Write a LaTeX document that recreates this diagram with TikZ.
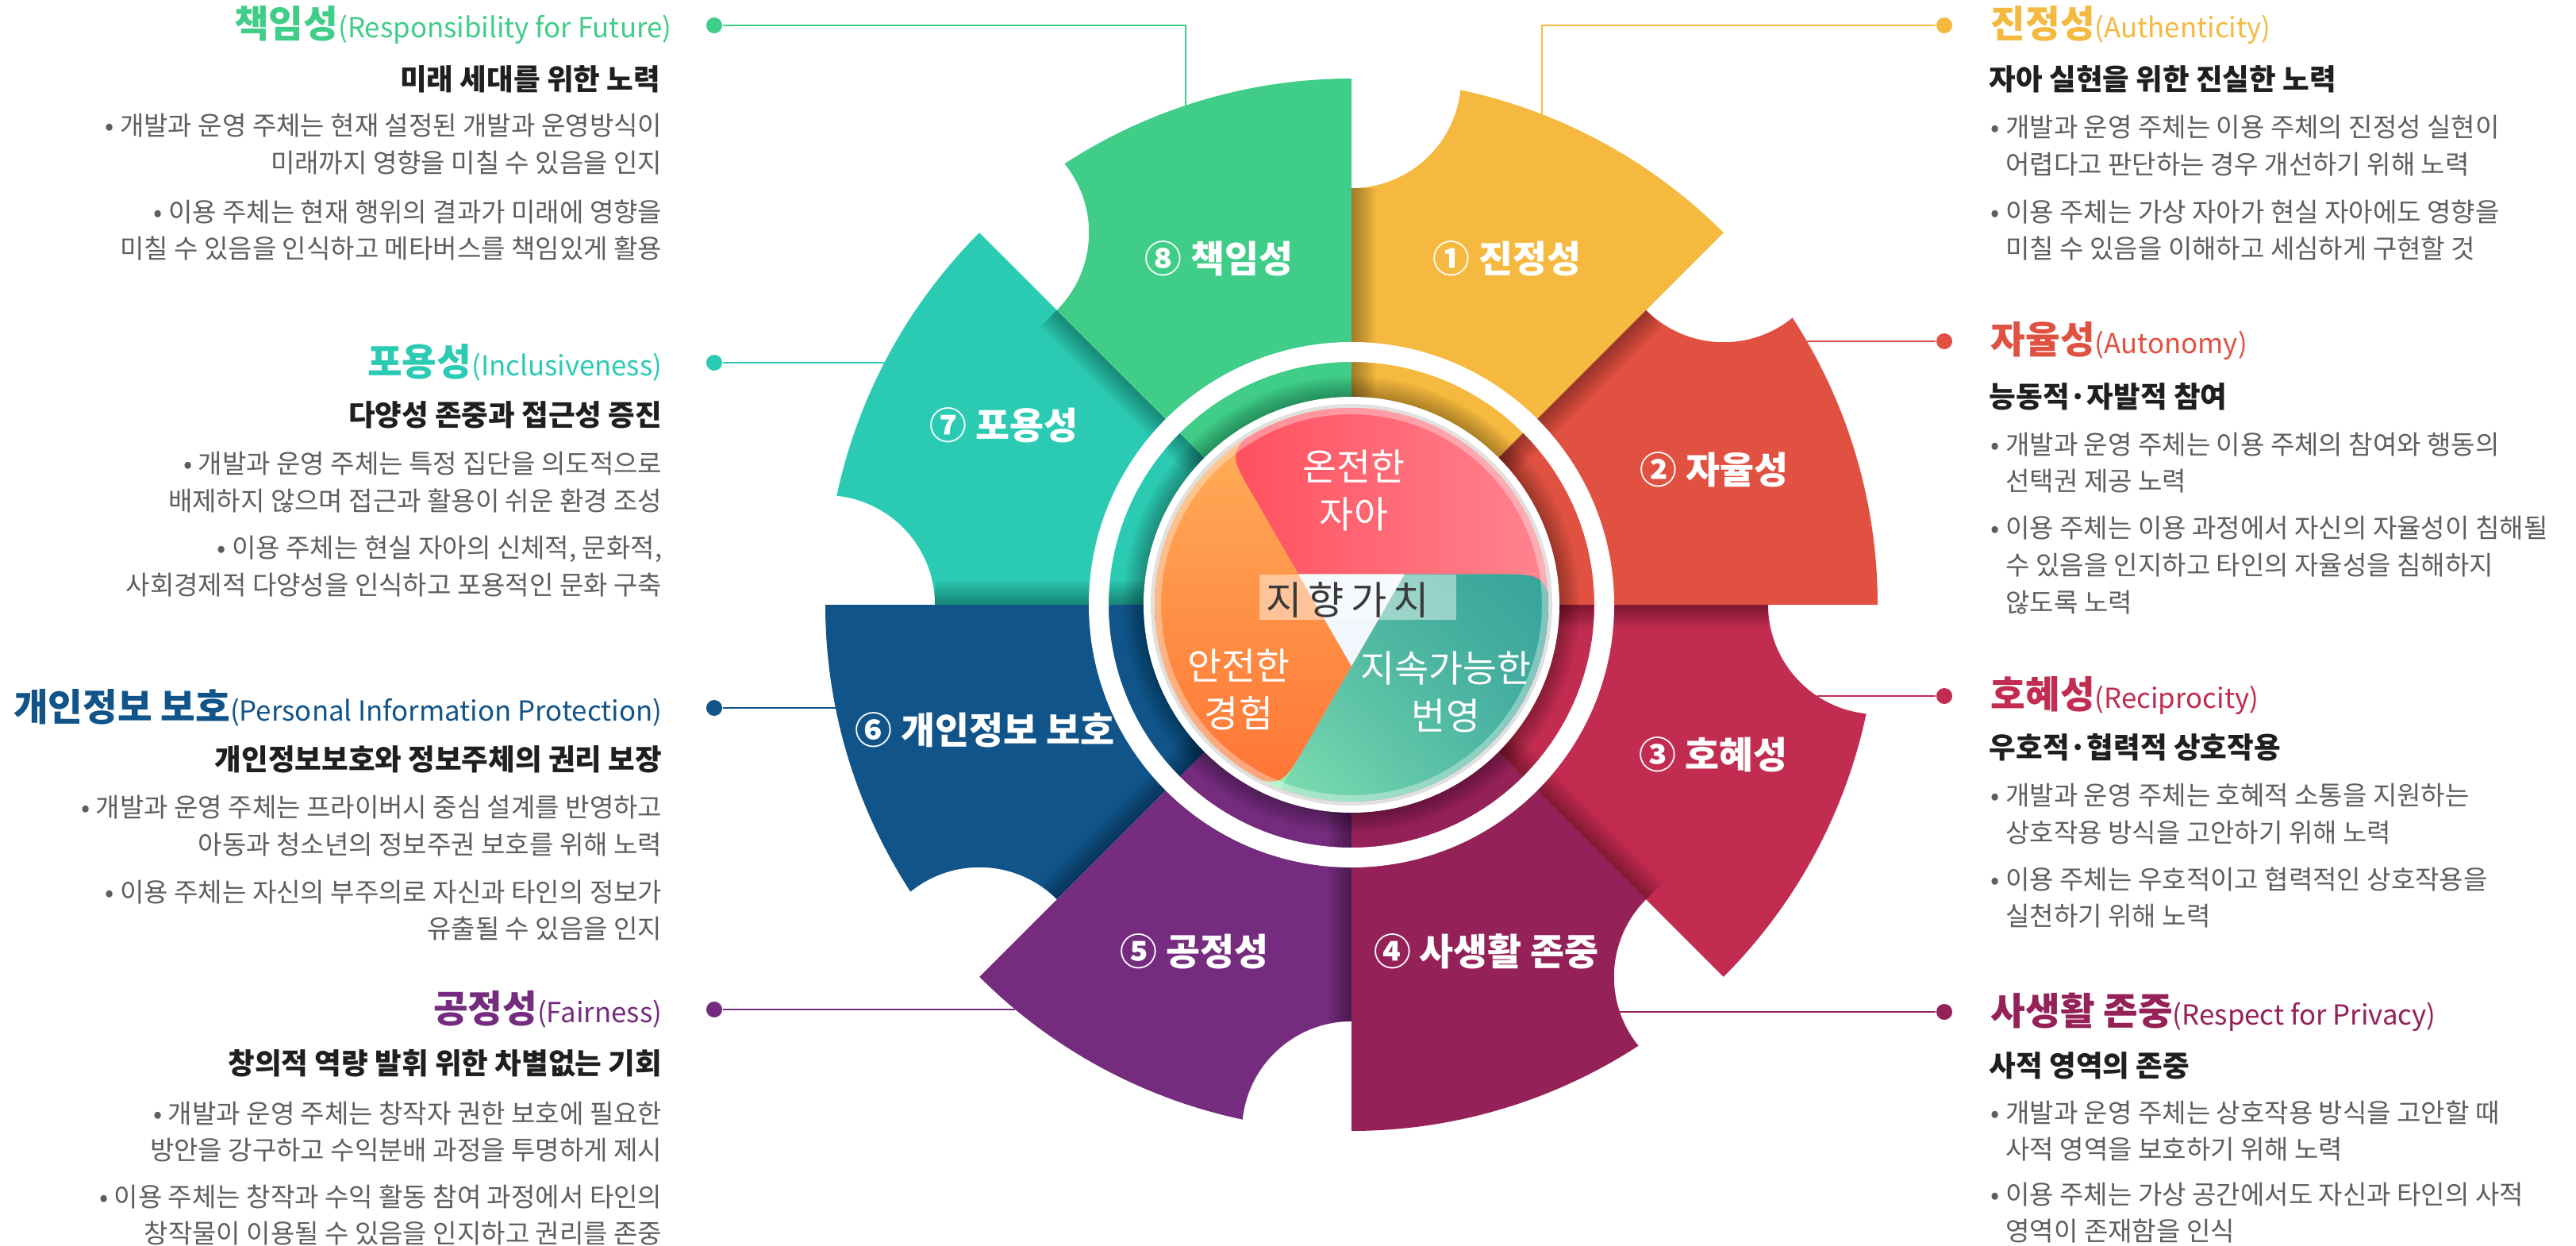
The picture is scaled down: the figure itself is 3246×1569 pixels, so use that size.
\documentclass[tikz,border=0pt]{standalone}
\usepackage{fontspec}
\setmainfont{Noto Sans CJK KR}
\usetikzlibrary{calc,shadings}

% segment colours
\definecolor{cYel}{HTML}{F5B93F}
\definecolor{cRed}{HTML}{E15142}
\definecolor{cCri}{HTML}{C22C50}
\definecolor{cMar}{HTML}{952159}
\definecolor{cPur}{HTML}{752C7E}
\definecolor{cBlu}{HTML}{11548A}
\definecolor{cTea}{HTML}{2BCBB3}
\definecolor{cGre}{HTML}{3FCD87}
% text colours
\definecolor{txtgray}{HTML}{5E5E5E}
\definecolor{subink}{HTML}{1F1F1F}
\definecolor{hubtext}{HTML}{3A3A3A}
% hub blade colours
\definecolor{bladeRedL}{HTML}{FF4352}
\definecolor{bladeRedR}{HTML}{FF8490}
\definecolor{bladeOrT}{HTML}{FFB25A}
\definecolor{bladeOrB}{HTML}{FF7234}
\definecolor{bladeTeD}{HTML}{2A9A94}
\definecolor{bladeTeM}{HTML}{48B0A2}
\definecolor{bladeTeL}{HTML}{9AF6B8}
\definecolor{gapOr}{HTML}{FFA852}
\definecolor{gapPk}{HTML}{FF7F8A}
\definecolor{gapGr}{HTML}{93F1B4}
\definecolor{triwhite}{HTML}{F1F7FC}

% one wheel segment: 45 degrees from angle #1, with a round bite at its counter-clockwise outer corner
\newcommand\wsegpath[1]{(0,0) -- (#1:663) arc[start angle=#1, end angle=#1+33.05, radius=663] arc[start angle=#1-50.97, end angle=#1-135, radius=138] -- cycle}

% soft fold shadow along the radial edge at angle #1, on side #2 (+1 / -1), inside segment starting at #3
\newcommand\foldshade[3]{%
  \begin{scope}
    \clip \wsegpath{#3};
    \foreach \w in {3,6,...,30}{%
      \fill[black,opacity=0.035,rotate=#1] (0,0) -- (525,0) -- (525,#2*\w) -- (0,#2*\w) -- cycle;}
  \end{scope}}

% hub blade (upper one); the other two are the same shape turned by 120 degrees
\newcommand\bladeround{(0,-77.4) -- (-123.5,136.5) .. controls (-156.0,192.8) .. (-105.5,233.7) -- (-40,330) -- (330,330) -- (330,38.7) -- (67,38.7) -- cycle}
\newcommand\bladesharp{(0,-77.4) -- (-156.0,192.8) -- (-105.5,233.7) -- (-40,330) -- (330,330) -- (330,38.7) -- (67,38.7) -- cycle}

% heading: Korean word in bold followed by the English name
\newcommand\headword[2]{{\fontsize{13.5}{15}\selectfont\bfseries #1}{\fontsize{9.9}{14}\selectfont(#2)}}
\newcommand\hang{\hphantom{•\ }}

\begin{document}
\begin{tikzpicture}[x=0.01cm,y=0.01cm,
  seglabel/.style={text=white,font=\fontsize{13.3}{15}\selectfont\bfseries,inner sep=0pt},
  hubword/.style={text=white,font=\fontsize{13.3}{17.2}\selectfont,align=center,inner sep=0pt},
  titleL/.style={anchor=east,inner sep=0pt},
  titleR/.style={anchor=west,inner sep=0pt},
  subL/.style={anchor=east,inner sep=0pt,text=subink,font=\fontsize{10.4}{12}\selectfont\bfseries},
  subR/.style={anchor=west,inner sep=0pt,text=subink,font=\fontsize{10.4}{12}\selectfont\bfseries},
  bodyL/.style={anchor=east,inner sep=0pt,align=right,text=txtgray,font=\fontsize{9.4}{13.3}\selectfont},
  bodyR/.style={anchor=west,inner sep=0pt,align=left,text=txtgray,font=\fontsize{9.4}{13.3}\selectfont},
  dot/.style={circle,inner sep=0pt,minimum size=2mm},
  conn/.style={line width=0.25mm},
]
\useasboundingbox (-1703,-807) rectangle (1543,762);
\fill[white] (-1703,-807) rectangle (1543,762);

% ---------------- wheel segments ----------------
\fill[cYel] \wsegpath{45};
\fill[cRed] \wsegpath{0};
\fill[cCri] \wsegpath{-45};
\fill[cMar] \wsegpath{-90};
\fill[cPur] \wsegpath{-135};
\fill[cBlu] \wsegpath{-180};
\fill[cTea] \wsegpath{135};
\fill[cGre] \wsegpath{90};

% fold shadows between neighbouring segments
\foldshade{90}{-1}{45}
\foldshade{45}{-1}{0}
\foldshade{0}{-1}{-45}
\foldshade{-45}{1}{-45}
\foldshade{-90}{-1}{-135}
\foldshade{-135}{-1}{-180}
\foldshade{180}{-1}{135}
\foldshade{135}{1}{135}

% segment labels
\node[seglabel] (s1) at (196,436)   {① 진정성};
\node[seglabel] (s2) at (457,170)   {② 자율성};
\node[seglabel] (s3) at (456,-189)  {③ 호혜성};
\node[seglabel] (s4) at (170,-437)  {④ 사생활 존중};
\node[seglabel] (s5) at (-198,-437) {⑤ 공정성};
\node[seglabel] (s6) at (-462,-158) {⑥ 개인정보 보호};
\node[seglabel] (s7) at (-438,226)  {⑦ 포용성};
\node[seglabel] (s8) at (-167,436)  {⑧ 책임성};

% ---------------- white ring and hub ----------------
\fill[white,even odd rule] (0,0) circle[radius=331] (0,0) circle[radius=306];
\foreach \r in {262,264,...,288}{\fill[black,opacity=0.025] (0,0) circle[radius=\r];}
\fill[white] (0,0) circle[radius=262];
\fill[black!12] (0,0) circle[radius=253];

\begin{scope}
  \clip (0,0) circle[radius=248];
  % colours that show through beside the rounded blade ends
  \fill[gapOr] \bladesharp;
  \fill[gapPk,rotate=-120] \bladesharp;
  \fill[gapGr,rotate=120] \bladesharp;
  % upper blade
  \begin{scope}
    \clip \bladeround;
    \shade[left color=bladeRedL,right color=bladeRedR] (-250,-250) rectangle (250,250);
  \end{scope}
  % lower right blade
  \begin{scope}
    \clip[rotate=-120] \bladeround;
    \shade[upper left=bladeTeD,upper right=bladeTeD,lower left=bladeTeL,lower right=bladeTeM] (-250,-250) rectangle (250,250);
  \end{scope}
  % left blade
  \begin{scope}
    \clip[rotate=120] \bladeround;
    \shade[top color=bladeOrT,bottom color=bladeOrB] (-250,-250) rectangle (250,250);
  \end{scope}
  % centre triangle and caption plate
  \fill[triwhite] (-67,38.7) -- (67,38.7) -- (0,-77.4) -- cycle;
  \fill[white,opacity=0.45] (-116,-19) rectangle (132,38);
  \draw[white,opacity=0.35,line width=0.8mm] (0,0) circle[radius=244];
\end{scope}

\node[text=hubtext,font=\fontsize{14}{16}\selectfont,inner sep=0pt] (hub) at (-5,6) {지\,향\,가\,치};
\node[hubword] (h1) at (3,144)    {온전한\\자아};
\node[hubword] (h2) at (-142,-107) {안전한\\경험};
\node[hubword] (h3) at (119,-110)  {지속가능한\\번영};

% ---------------- connectors ----------------
\node[dot,fill=cGre] (d8) at (-803,730) {};
\node[dot,fill=cTea] (d7) at (-803,305) {};
\node[dot,fill=cBlu] (d6) at (-803,-130) {};
\node[dot,fill=cPur] (d5) at (-803,-510) {};
\node[dot,fill=cYel] (d1) at (747,730) {};
\node[dot,fill=cRed] (d2) at (747,332) {};
\node[dot,fill=cCri] (d3) at (747,-115) {};
\node[dot,fill=cMar] (d4) at (747,-513) {};

\coordinate (e8) at (-209,629.2);
\coordinate (e7) at (-588.7,305);
\coordinate (e6) at (-650.1,-130);
\coordinate (e5) at (-423.6,-510);
\coordinate (e1) at (240,618);
\coordinate (e2) at (573.9,332);
\coordinate (e3) at (586.7,-115);
\coordinate (e4) at (338.1,-513);

\draw[cGre,conn] (d8) -- (e8 |- d8) -- (e8);
\draw[cTea,conn] (d7) -- (e7);
\draw[cBlu,conn] (d6) -- (e6);
\draw[cPur,conn] (d5) -- (e5);
\draw[cYel,conn] (d1) -- (e1 |- d1) -- (e1);
\draw[cRed,conn] (d2) -- (e2);
\draw[cCri,conn] (d3) -- (e3);
\draw[cMar,conn] (d4) -- (e4);

% ---------------- left texts ----------------
\node[titleL,text=cGre] (t8) at (-856,730) {\headword{책임성}{Responsibility for Future}};
\node[subL] (u8) at (-870,662) {미래 세대를 위한 노력};
\node[bodyL] (b8a) at (-868,580) {• 개발과 운영 주체는 현재 설정된 개발과 운영방식이\\미래까지 영향을 미칠 수 있음을 인지};
\node[bodyL] (b8b) at (-868,472) {• 이용 주체는 현재 행위의 결과가 미래에 영향을\\미칠 수 있음을 인식하고 메타버스를 책임있게 활용};

\node[titleL,text=cTea] (t7) at (-868,305) {\headword{포용성}{Inclusiveness}};
\node[subL] (u7) at (-868,239) {다양성 존중과 접근성 증진};
\node[bodyL] (b7a) at (-868,154) {• 개발과 운영 주체는 특정 집단을 의도적으로\\배제하지 않으며 접근과 활용이 쉬운 환경 조성};
\node[bodyL] (b7b) at (-868,48) {• 이용 주체는 현실 자아의 신체적, 문화적,\\사회경제적 다양성을 인식하고 포용적인 문화 구축};

\node[titleL,text=cBlu] (t6) at (-868,-130) {\headword{개인정보 보호}{Personal Information Protection}};
\node[subL] (u6) at (-868,-195) {개인정보보호와 정보주체의 권리 보장};
\node[bodyL] (b6a) at (-868,-279) {• 개발과 운영 주체는 프라이버시 중심 설계를 반영하고\\아동과 청소년의 정보주권 보호를 위해 노력};
\node[bodyL] (b6b) at (-868,-385) {• 이용 주체는 자신의 부주의로 자신과 타인의 정보가\\유출될 수 있음을 인지};

\node[titleL,text=cPur] (t5) at (-868,-510) {\headword{공정성}{Fairness}};
\node[subL] (u5) at (-868,-578) {창의적 역량 발휘 위한 차별없는 기회};
\node[bodyL] (b5a) at (-868,-664) {• 개발과 운영 주체는 창작자 권한 보호에 필요한\\방안을 강구하고 수익분배 과정을 투명하게 제시};
\node[bodyL] (b5b) at (-868,-769) {• 이용 주체는 창작과 수익 활동 참여 과정에서 타인의\\창작물이 이용될 수 있음을 인지하고 권리를 존중};

% ---------------- right texts ----------------
\node[titleR,text=cYel] (t1) at (805,730) {\headword{진정성}{Authenticity}};
\node[subR] (u1) at (803,662) {자아 실현을 위한 진실한 노력};
\node[bodyR] (b1a) at (805,578) {• 개발과 운영 주체는 이용 주체의 진정성 실현이\\\hang 어렵다고 판단하는 경우 개선하기 위해 노력};
\node[bodyR] (b1b) at (805,472) {• 이용 주체는 가상 자아가 현실 자아에도 영향을\\\hang 미칠 수 있음을 이해하고 세심하게 구현할 것};

\node[titleR,text=cRed] (t2) at (805,332) {\headword{자율성}{Autonomy}};
\node[subR] (u2) at (803,262) {능동적·자발적 참여};
\node[bodyR] (b2a) at (805,179) {• 개발과 운영 주체는 이용 주체의 참여와 행동의\\\hang 선택권 제공 노력};
\node[bodyR] (b2b) at (805,50) {• 이용 주체는 이용 과정에서 자신의 자율성이 침해될\\\hang 수 있음을 인지하고 타인의 자율성을 침해하지\\\hang 않도록 노력};

\node[titleR,text=cCri] (t3) at (805,-115) {\headword{호혜성}{Reciprocity}};
\node[subR] (u3) at (803,-180) {우호적·협력적 상호작용};
\node[bodyR] (b3a) at (805,-264) {• 개발과 운영 주체는 호혜적 소통을 지원하는\\\hang 상호작용 방식을 고안하기 위해 노력};
\node[bodyR] (b3b) at (805,-369) {• 이용 주체는 우호적이고 협력적인 상호작용을\\\hang 실천하기 위해 노력};

\node[titleR,text=cMar] (t4) at (805,-513) {\headword{사생활 존중}{Respect for Privacy}};
\node[subR] (u4) at (803,-581) {사적 영역의 존중};
\node[bodyR] (b4a) at (805,-663) {• 개발과 운영 주체는 상호작용 방식을 고안할 때\\\hang 사적 영역을 보호하기 위해 노력};
\node[bodyR] (b4b) at (805,-766) {• 이용 주체는 가상 공간에서도 자신과 타인의 사적\\\hang 영역이 존재함을 인식};
\end{tikzpicture}
\end{document}
